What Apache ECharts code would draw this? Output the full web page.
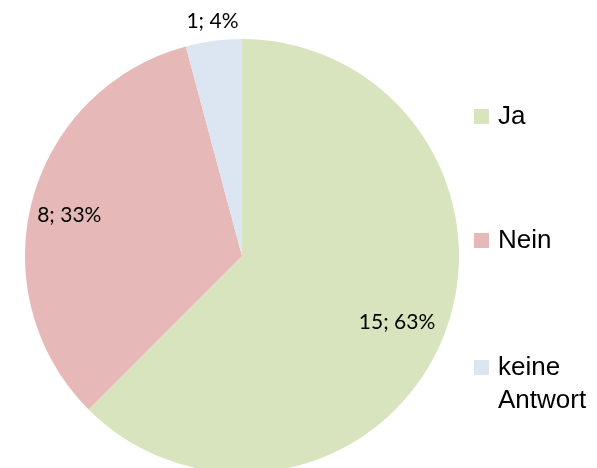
<!DOCTYPE html>
<html>
<head>
<meta charset="utf-8">
<script src="https://cdn.jsdelivr.net/npm/echarts@6/dist/echarts.min.js"></script>
<style>
html,body{margin:0;padding:0;background:#fff;}
#chart{width:597px;height:468px;}
</style>
</head>
<body>
<div id="chart"></div>
<script>
const categories = ['Ja', 'Nein', 'keine Antwort'];
const counts = [15, 8, 1];
const percents = [63, 33, 4];
const colors = ['#d7e4bd', '#e6b9b8', '#dce6f2'];
const labelOffsets = [[52, 24], [-65, -12], [-15, -124]];

const chart = echarts.init(document.getElementById('chart'));
const data = categories.map((name, i) => ({
  name: name,
  value: counts[i],
  itemStyle: { color: colors[i] },
  label: { offset: labelOffsets[i] }
}));

const legendText = { fontFamily: 'Liberation Sans', fontSize: 26, lineHeight: 33, color: '#000', padding: [0, 0, 0, 4] };
const legendBase = {
  orient: 'vertical',
  left: 474,
  padding: 0,
  itemWidth: 15,
  itemHeight: 15,
  itemGap: 91,
  icon: 'rect',
  selectedMode: false,
  textStyle: legendText
};

chart.setOption({
  animation: false,
  legend: [
    Object.assign({}, legendBase, { top: 100, data: [categories[0], categories[1]] }),
    Object.assign({}, legendBase, {
      top: 318,
      formatter: function (name) { return '\n' + name.replace(' ', '\n'); },
      data: [categories[2]]
    })
  ],
  series: [{
    type: 'pie',
    center: [242, 256],
    radius: 217,
    startAngle: 90,
    clockwise: true,
    silent: true,
    itemStyle: { borderWidth: 0 },
    label: {
      position: 'inside',
      fontFamily: 'Lato',
      fontSize: 21,
      color: '#000',
      formatter: function (p) { return counts[p.dataIndex] + '; ' + percents[p.dataIndex] + '%'; }
    },
    labelLine: { show: false },
    data: data
  }]
});
</script>
</body>
</html>
